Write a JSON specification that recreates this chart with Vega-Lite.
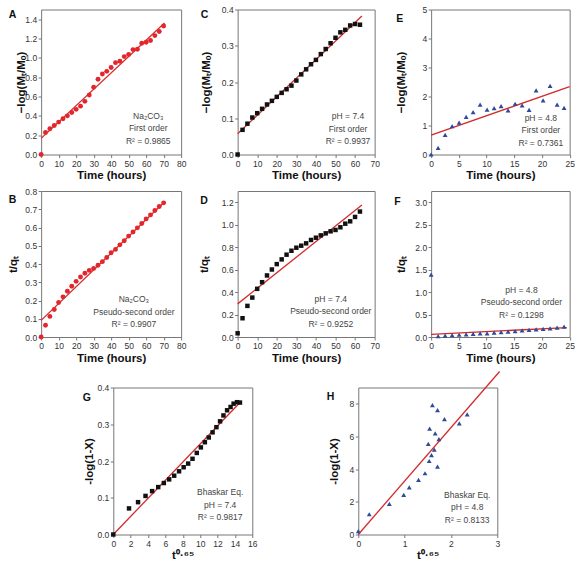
{
  "$schema": "https://vega.github.io/schema/vega-lite/v6.json",
  "padding": {"left": 6, "top": 4.5, "right": 0, "bottom": 0},
  "autosize": {"type": "pad"},
  "background": "white",
  "center": true,
  "spacing": 3,
  "datasets": {
    "A_pts": [{"x":0,"y":0},{"x":2.5,"y":0.228},{"x":5,"y":0.266},{"x":7.5,"y":0.30},{"x":10,"y":0.335},{"x":12.5,"y":0.37},{"x":15,"y":0.40},{"x":17.5,"y":0.435},{"x":20,"y":0.467},{"x":22.5,"y":0.50},{"x":25,"y":0.55},{"x":27.5,"y":0.615},{"x":30,"y":0.695},{"x":32.5,"y":0.778},{"x":35,"y":0.833},{"x":37.5,"y":0.86},{"x":40,"y":0.90},{"x":42.5,"y":0.95},{"x":45,"y":0.964},{"x":47.5,"y":1.013},{"x":50,"y":1.034},{"x":52.5,"y":1.085},{"x":55,"y":1.089},{"x":57.5,"y":1.151},{"x":60,"y":1.161},{"x":62.5,"y":1.18},{"x":65,"y":1.23},{"x":67.5,"y":1.272},{"x":70,"y":1.33}],
    "A_fit": [{"x":0,"y":0.167},{"x":70.5,"y":1.36}],
    "B_pts": [{"x":0,"y":0},{"x":2.5,"y":0.064},{"x":5,"y":0.113},{"x":7.5,"y":0.151},{"x":10,"y":0.189},{"x":12.5,"y":0.22},{"x":15,"y":0.251},{"x":17.5,"y":0.278},{"x":20,"y":0.305},{"x":22.5,"y":0.329},{"x":25,"y":0.349},{"x":27.5,"y":0.365},{"x":30,"y":0.376},{"x":32.5,"y":0.393},{"x":35,"y":0.413},{"x":37.5,"y":0.436},{"x":40,"y":0.462},{"x":42.5,"y":0.48},{"x":45,"y":0.505},{"x":47.5,"y":0.527},{"x":50,"y":0.553},{"x":52.5,"y":0.575},{"x":55,"y":0.598},{"x":57.5,"y":0.622},{"x":60,"y":0.647},{"x":62.5,"y":0.669},{"x":65,"y":0.693},{"x":67.5,"y":0.715},{"x":70,"y":0.735}],
    "B_fit": [{"x":0,"y":0.091},{"x":70,"y":0.736}],
    "C_pts": [{"x":0,"y":0},{"x":2.5,"y":0.068},{"x":5,"y":0.085},{"x":7.5,"y":0.102},{"x":10,"y":0.114},{"x":12.5,"y":0.126},{"x":15,"y":0.138},{"x":17.5,"y":0.148},{"x":20,"y":0.159},{"x":22.5,"y":0.170},{"x":25,"y":0.180},{"x":27.5,"y":0.190},{"x":30,"y":0.204},{"x":32.5,"y":0.221},{"x":35,"y":0.235},{"x":37.5,"y":0.249},{"x":40,"y":0.261},{"x":42.5,"y":0.277},{"x":45,"y":0.291},{"x":47.5,"y":0.307},{"x":50,"y":0.322},{"x":52.5,"y":0.337},{"x":55,"y":0.344},{"x":57.5,"y":0.356},{"x":60,"y":0.36},{"x":62.5,"y":0.358}],
    "C_fit": [{"x":0,"y":0.057},{"x":63.5,"y":0.382}],
    "D_pts": [{"x":0,"y":0.033},{"x":2.5,"y":0.167},{"x":5,"y":0.277},{"x":7.5,"y":0.351},{"x":10,"y":0.429},{"x":12.5,"y":0.488},{"x":15,"y":0.548},{"x":17.5,"y":0.601},{"x":20,"y":0.649},{"x":22.5,"y":0.691},{"x":25,"y":0.733},{"x":27.5,"y":0.768},{"x":30,"y":0.795},{"x":32.5,"y":0.813},{"x":35,"y":0.834},{"x":37.5,"y":0.864},{"x":40,"y":0.884},{"x":42.5,"y":0.905},{"x":45,"y":0.923},{"x":47.5,"y":0.941},{"x":50,"y":0.953},{"x":52.5,"y":0.977},{"x":55,"y":1.009},{"x":57.5,"y":1.03},{"x":60,"y":1.069},{"x":62.5,"y":1.117}],
    "D_fit": [{"x":0,"y":0.295},{"x":63.5,"y":1.175}],
    "E_pts": [{"x":0,"y":0},{"x":1.26,"y":0.23},{"x":2.53,"y":0.68},{"x":3.79,"y":0.98},{"x":5.05,"y":1.10},{"x":6.32,"y":1.30},{"x":7.58,"y":1.46},{"x":8.84,"y":1.72},{"x":10.1,"y":1.55},{"x":11.37,"y":1.60},{"x":12.63,"y":1.67},{"x":13.89,"y":1.52},{"x":15.16,"y":1.75},{"x":16.42,"y":1.69},{"x":17.68,"y":1.54},{"x":18.95,"y":2.21},{"x":20.21,"y":1.87},{"x":21.47,"y":2.37},{"x":22.74,"y":1.72},{"x":24,"y":1.61}],
    "E_fit": [{"x":0,"y":0.667},{"x":25,"y":2.34}],
    "F_pts": [{"x":0,"y":1.39},{"x":1.26,"y":0.02},{"x":2.53,"y":0.03},{"x":3.79,"y":0.04},{"x":5.05,"y":0.05},{"x":6.32,"y":0.06},{"x":7.58,"y":0.07},{"x":8.84,"y":0.08},{"x":10.1,"y":0.08},{"x":11.37,"y":0.10},{"x":12.63,"y":0.11},{"x":13.89,"y":0.12},{"x":15.16,"y":0.13},{"x":16.42,"y":0.15},{"x":17.68,"y":0.16},{"x":18.95,"y":0.17},{"x":20.21,"y":0.18},{"x":21.47,"y":0.19},{"x":22.74,"y":0.21},{"x":24,"y":0.23}],
    "F_fit": [{"x":0,"y":0.06},{"x":24.5,"y":0.21}],
    "G_pts": [{"x":0,"y":0},{"x":1.81,"y":0.071},{"x":2.85,"y":0.088},{"x":3.71,"y":0.105},{"x":4.47,"y":0.118},{"x":5.17,"y":0.129},{"x":5.82,"y":0.140},{"x":6.43,"y":0.150},{"x":7.01,"y":0.160},{"x":7.57,"y":0.172},{"x":8.10,"y":0.183},{"x":8.62,"y":0.193},{"x":9.12,"y":0.206},{"x":9.61,"y":0.222},{"x":10.08,"y":0.237},{"x":10.54,"y":0.251},{"x":10.99,"y":0.264},{"x":11.43,"y":0.278},{"x":11.87,"y":0.292},{"x":12.29,"y":0.308},{"x":12.68,"y":0.324},{"x":13.1,"y":0.338},{"x":13.5,"y":0.347},{"x":13.85,"y":0.356},{"x":14.24,"y":0.36},{"x":14.58,"y":0.359}],
    "G_fit": [{"x":0,"y":0},{"x":14.7,"y":0.362}],
    "H_pts": [{"x":0,"y":0.2},{"x":0.236,"y":1.24},{"x":0.67,"y":1.88},{"x":0.98,"y":2.42},{"x":1.1,"y":2.89},{"x":1.3,"y":3.35},{"x":1.44,"y":3.75},{"x":1.53,"y":4.5},{"x":1.58,"y":4.86},{"x":1.64,"y":5.2},{"x":1.71,"y":4.15},{"x":1.51,"y":5.55},{"x":1.54,"y":6.48},{"x":1.66,"y":6.19},{"x":1.74,"y":5.84},{"x":1.6,"y":7.92},{"x":1.71,"y":7.62},{"x":1.86,"y":7.07},{"x":2.18,"y":6.8},{"x":2.35,"y":7.36}],
    "H_fit": [{"x":0,"y":0},{"x":3.05,"y":9.98}]
  },
  "vconcat": [
    {
      "spacing": 4.5,
      "vconcat": [
        {
          "bounds": "flush",
          "spacing": 56.5,
          "hconcat": [
            {
              "width": 140, "height": 145,
              "title": {"text": "A", "dx": -32.5, "dy": 15},
              "layer": [
                {"data": {"name": "A_fit"}, "mark": {"type": "line", "color": "#d42a2c", "strokeWidth": 1.3},
                 "encoding": {
                   "x": {"field": "x", "type": "quantitative", "scale": {"domain": [0, 80], "nice": false}, "axis": {"values": [0,10,20,30,40,50,60,70,80], "format": "d", "title": "Time (hours)"}},
                   "y": {"field": "y", "type": "quantitative", "scale": {"domain": [0, 1.5], "nice": false}, "axis": {"values": [0,0.2,0.4,0.6,0.8,1.0,1.2,1.4], "format": ".1f", "title": "−log(Mₜ/Mₒ)", "titlePadding": -2}}}},
                {"data": {"name": "A_pts"}, "mark": {"type": "point", "shape": "circle", "filled": true, "size": 24, "color": "#e3262c", "opacity": 1},
                 "encoding": {"x": {"field": "x", "type": "quantitative"}, "y": {"field": "y", "type": "quantitative"}}},
                {"data": {"values": [{}]}, "mark": {"type": "text", "text": ["Na₂CO₃", "First order", "R² = 0.9865"], "align": "center", "baseline": "middle", "lineHeight": 12.5, "fontSize": 8.5, "color": "#444"},
                 "encoding": {"x": {"datum": 61.2}, "y": {"datum": 0.40}}}
              ]
            },
            {
              "width": 137, "height": 145,
              "title": {"text": "C", "dx": -37, "dy": 19},
              "layer": [
                {"data": {"name": "C_fit"}, "mark": {"type": "line", "color": "#d42a2c", "strokeWidth": 1.3},
                 "encoding": {
                   "x": {"field": "x", "type": "quantitative", "scale": {"domain": [0, 70], "nice": false}, "axis": {"values": [0,10,20,30,40,50,60,70], "format": "d", "title": "Time (hours)"}},
                   "y": {"field": "y", "type": "quantitative", "scale": {"domain": [0, 0.4], "nice": false}, "axis": {"values": [0,0.1,0.2,0.3,0.4], "format": ".1f", "title": "−log(Mₜ/Mₒ)", "titlePadding": 10}}}},
                {"data": {"name": "C_pts"}, "mark": {"type": "point", "shape": "square", "filled": true, "size": 20, "color": "#111111", "opacity": 1},
                 "encoding": {"x": {"field": "x", "type": "quantitative"}, "y": {"field": "y", "type": "quantitative"}}},
                {"data": {"values": [{}]}, "mark": {"type": "text", "text": ["pH = 7.4", "First order", "R² = 0.9937"], "align": "center", "baseline": "middle", "lineHeight": 12.5, "fontSize": 8.5, "color": "#444"},
                 "encoding": {"x": {"datum": 56.4}, "y": {"datum": 0.106}}}
              ]
            },
            {
              "width": 138.5, "height": 145,
              "title": {"text": "E", "dx": -35, "dy": 23},
              "layer": [
                {"data": {"name": "E_fit"}, "mark": {"type": "line", "color": "#d42a2c", "strokeWidth": 1.3},
                 "encoding": {
                   "x": {"field": "x", "type": "quantitative", "scale": {"domain": [0, 25], "nice": false}, "axis": {"values": [0,5,10,15,20,25], "format": "d", "title": "Time (hours)"}},
                   "y": {"field": "y", "type": "quantitative", "scale": {"domain": [0, 5], "nice": false}, "axis": {"values": [0,1,2,3,4,5], "format": "d", "title": "−log(Mₜ/Mₒ)", "titlePadding": 15}}}},
                {"data": {"name": "E_pts"}, "mark": {"type": "point", "shape": "triangle-up", "filled": true, "size": 24, "color": "#2d4b98", "opacity": 1},
                 "encoding": {"x": {"field": "x", "type": "quantitative"}, "y": {"field": "y", "type": "quantitative"}}},
                {"data": {"values": [{}]}, "mark": {"type": "text", "text": ["pH = 4.8", "First order", "R² = 0.7361"], "align": "center", "baseline": "middle", "lineHeight": 12.5, "fontSize": 8.5, "color": "#444"},
                 "encoding": {"x": {"datum": 19.8}, "y": {"datum": 1.27}}}
              ]
            }
          ]
        },
        {
          "bounds": "flush",
          "spacing": 56.5,
          "hconcat": [
            {
              "width": 140, "height": 146,
              "title": {"text": "B", "dx": -32.5, "dy": 22},
              "layer": [
                {"data": {"name": "B_fit"}, "mark": {"type": "line", "color": "#d42a2c", "strokeWidth": 1.3},
                 "encoding": {
                   "x": {"field": "x", "type": "quantitative", "scale": {"domain": [0, 80], "nice": false}, "axis": {"values": [0,10,20,30,40,50,60,70,80], "format": "d", "title": "Time (hours)"}},
                   "y": {"field": "y", "type": "quantitative", "scale": {"domain": [0, 0.8], "nice": false}, "axis": {"values": [0,0.1,0.2,0.3,0.4,0.5,0.6,0.7,0.8], "format": ".1f", "title": "t/qₜ", "titlePadding": 6.5}}}},
                {"data": {"name": "B_pts"}, "mark": {"type": "point", "shape": "circle", "filled": true, "size": 24, "color": "#e3262c", "opacity": 1},
                 "encoding": {"x": {"field": "x", "type": "quantitative"}, "y": {"field": "y", "type": "quantitative"}}},
                {"data": {"values": [{}]}, "mark": {"type": "text", "text": ["Na₂CO₃", "Pseudo-second order", "R² = 0.9907"], "align": "center", "baseline": "middle", "lineHeight": 12.5, "fontSize": 8.5, "color": "#444"},
                 "encoding": {"x": {"datum": 53}, "y": {"datum": 0.208}}}
              ]
            },
            {
              "width": 137, "height": 146,
              "title": {"text": "D", "dx": -37.5, "dy": 19},
              "layer": [
                {"data": {"name": "D_fit"}, "mark": {"type": "line", "color": "#d42a2c", "strokeWidth": 1.3},
                 "encoding": {
                   "x": {"field": "x", "type": "quantitative", "scale": {"domain": [0, 70], "nice": false}, "axis": {"values": [0,10,20,30,40,50,60,70], "format": "d", "title": "Time (hours)"}},
                   "y": {"field": "y", "type": "quantitative", "scale": {"domain": [0, 1.3], "nice": false}, "axis": {"values": [0,0.2,0.4,0.6,0.8,1.0,1.2], "format": ".1f", "title": "t/qₜ", "titlePadding": 11.5}}}},
                {"data": {"name": "D_pts"}, "mark": {"type": "point", "shape": "square", "filled": true, "size": 20, "color": "#111111", "opacity": 1},
                 "encoding": {"x": {"field": "x", "type": "quantitative"}, "y": {"field": "y", "type": "quantitative"}}},
                {"data": {"values": [{}]}, "mark": {"type": "text", "text": ["pH = 7.4", "Pseudo-second order", "R² = 0.9252"], "align": "center", "baseline": "middle", "lineHeight": 12.5, "fontSize": 8.5, "color": "#444"},
                 "encoding": {"x": {"datum": 47.6}, "y": {"datum": 0.339}}}
              ]
            },
            {
              "width": 138.5, "height": 146,
              "title": {"text": "F", "dx": -37, "dy": 20},
              "layer": [
                {"data": {"name": "F_fit"}, "mark": {"type": "line", "color": "#d42a2c", "strokeWidth": 1.3},
                 "encoding": {
                   "x": {"field": "x", "type": "quantitative", "scale": {"domain": [0, 25], "nice": false}, "axis": {"values": [0,5,10,15,20,25], "format": "d", "title": "Time (hours)"}},
                   "y": {"field": "y", "type": "quantitative", "scale": {"domain": [0, 3.25], "nice": false}, "axis": {"values": [0,0.5,1.0,1.5,2.0,2.5,3.0], "format": ".1f", "title": "t/qₜ", "titlePadding": 8.5}}}},
                {"data": {"name": "F_pts"}, "mark": {"type": "point", "shape": "triangle-up", "filled": true, "size": 24, "color": "#2d4b98", "opacity": 1},
                 "encoding": {"x": {"field": "x", "type": "quantitative"}, "y": {"field": "y", "type": "quantitative"}}},
                {"data": {"values": [{}]}, "mark": {"type": "text", "text": ["pH = 4.8", "Pseudo-second order", "R² = 0.1298"], "align": "center", "baseline": "middle", "lineHeight": 12.5, "fontSize": 8.5, "color": "#444"},
                 "encoding": {"x": {"datum": 16.3}, "y": {"datum": 1.05}}}
              ]
            }
          ]
        }
      ]
    },
    {
      "bounds": "flush",
      "spacing": 106,
      "hconcat": [
        {
          "width": 139, "height": 147,
          "title": {"text": "G", "dx": -30.5, "dy": 24},
          "layer": [
            {"data": {"name": "G_fit"}, "mark": {"type": "line", "color": "#d42a2c", "strokeWidth": 1.3},
             "encoding": {
               "x": {"field": "x", "type": "quantitative", "scale": {"domain": [0, 16], "nice": false}, "axis": {"values": [0,2,4,6,8,10,12,14,16], "format": "d", "title": "t⁰·⁶⁵"}},
               "y": {"field": "y", "type": "quantitative", "scale": {"domain": [0, 0.4], "nice": false}, "axis": {"values": [0,0.1,0.2,0.3,0.4], "format": ".1f", "title": "-log(1-X)", "titlePadding": 2.5}}}},
            {"data": {"name": "G_pts"}, "mark": {"type": "point", "shape": "square", "filled": true, "size": 20, "color": "#111111", "opacity": 1},
             "encoding": {"x": {"field": "x", "type": "quantitative"}, "y": {"field": "y", "type": "quantitative"}}},
            {"data": {"values": [{}]}, "mark": {"type": "text", "text": ["Bhaskar Eq.", "pH = 7.4", "R² = 0.9817"], "align": "center", "baseline": "middle", "lineHeight": 12.5, "fontSize": 8.5, "color": "#444"},
             "encoding": {"x": {"datum": 12.3}, "y": {"datum": 0.115}}}
          ]
        },
        {
          "width": 139, "height": 147,
          "title": {"text": "H", "dx": -31.5, "dy": 38},
          "layer": [
            {"data": {"name": "H_fit"}, "mark": {"type": "line", "color": "#d42a2c", "strokeWidth": 1.3, "clip": false},
             "encoding": {
               "x": {"field": "x", "type": "quantitative", "scale": {"domain": [0, 3], "nice": false}, "axis": {"values": [0,1,2,3], "format": "d", "title": "t⁰·⁶⁵"}},
               "y": {"field": "y", "type": "quantitative", "scale": {"domain": [0, 9], "nice": false}, "axis": {"values": [0,2,4,6,8], "format": "d", "title": "-log(1-X)", "titlePadding": 9.5}}}},
            {"data": {"name": "H_pts"}, "mark": {"type": "point", "shape": "triangle-up", "filled": true, "size": 24, "color": "#2d4b98", "opacity": 1},
             "encoding": {"x": {"field": "x", "type": "quantitative"}, "y": {"field": "y", "type": "quantitative"}}},
            {"data": {"values": [{}]}, "mark": {"type": "text", "text": ["Bhaskar Eq.", "pH = 4.8", "R² = 0.8133"], "align": "center", "baseline": "middle", "lineHeight": 12.5, "fontSize": 8.5, "color": "#444"},
             "encoding": {"x": {"datum": 2.35}, "y": {"datum": 2.43}}}
          ]
        }
      ]
    }
  ],
  "config": {
    "view": {"stroke": "#777777", "strokeWidth": 1},
    "axis": {"domain": false, "grid": false, "ticks": true, "tickSize": 3, "tickCount": 40, "tickColor": "#777777", "labelFont": "Liberation Sans", "labelFontSize": 8.5, "labelColor": "#333333", "labelPadding": 1.5, "labelFlush": false, "labelOverlap": false, "titleFont": "Liberation Sans", "titleFontSize": 11.5, "titleFontWeight": "bold", "titleColor": "#111111"},
    "axisX": {"titlePadding": 2},
    "title": {"anchor": "start", "frame": "group", "orient": "top", "offset": 0, "font": "Liberation Sans", "fontSize": 10.5, "fontWeight": "bold", "color": "#111111"},
    "text": {"font": "Liberation Sans"}
  }
}
